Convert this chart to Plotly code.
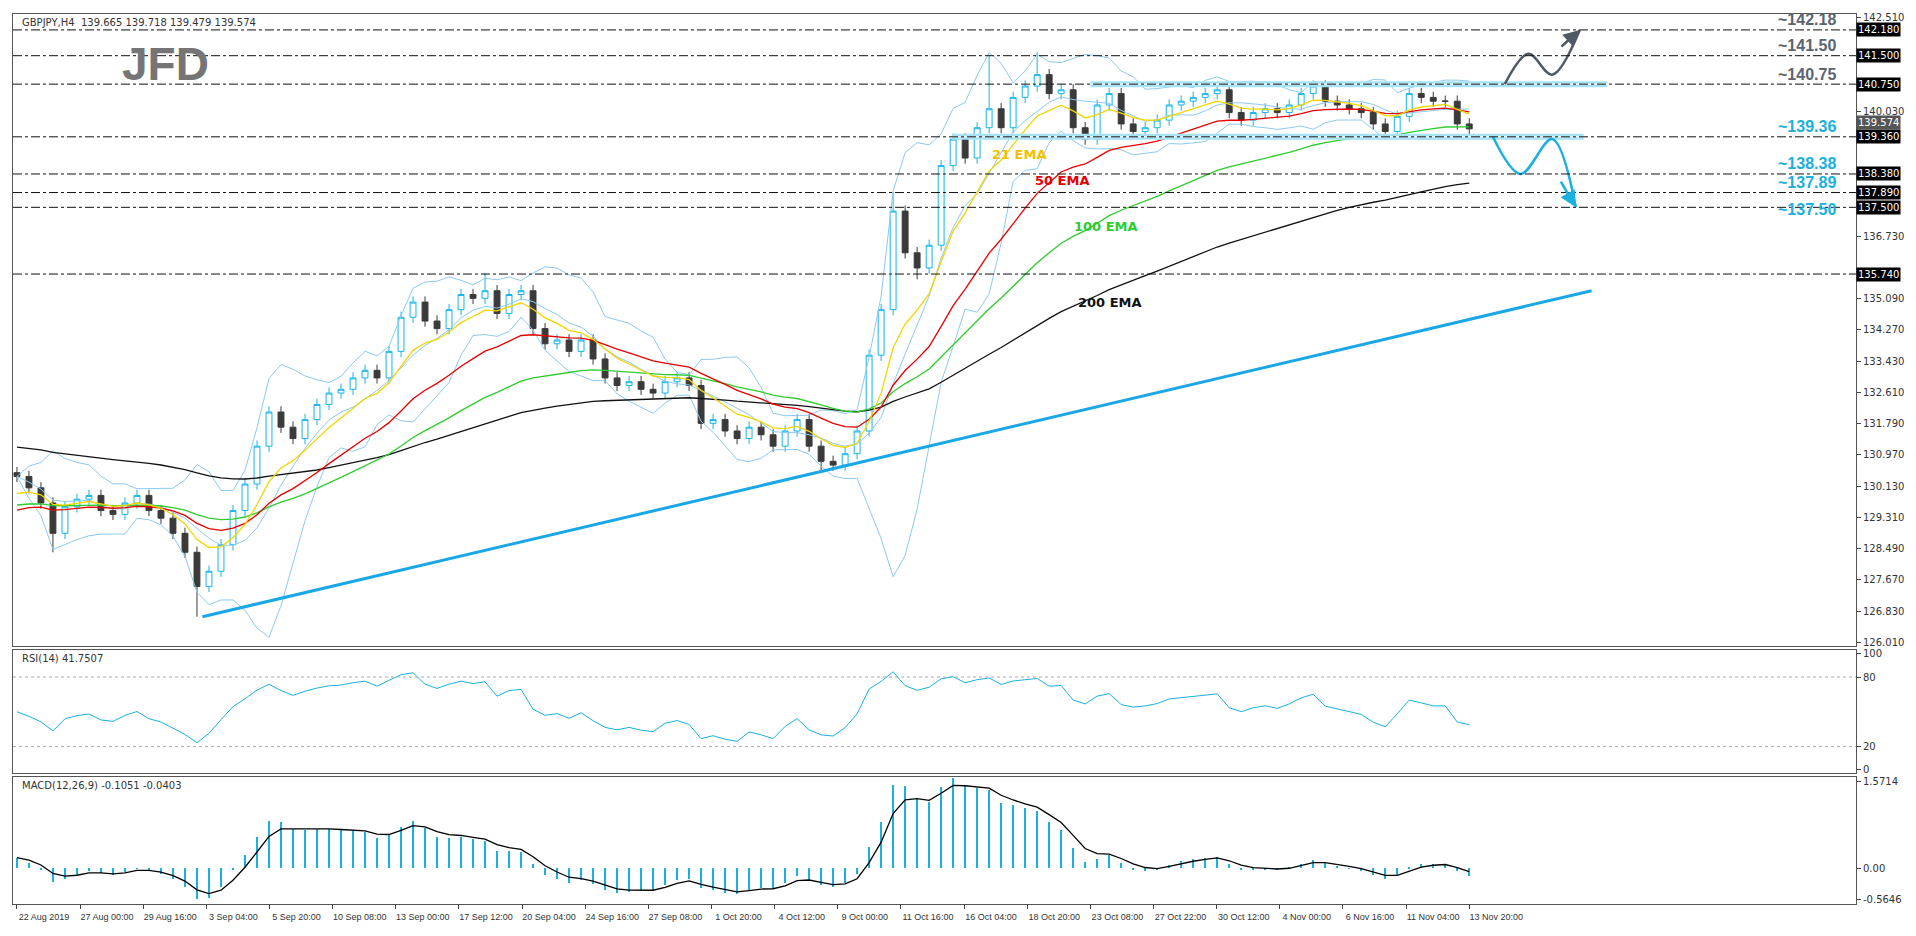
import numpy as np
import pandas as pd
import plotly.graph_objects as go

# ---------------- data ----------------
closes = [130.4,130.1,129.7,128.9,129.6,129.8,129.9,129.5,129.4,129.7,129.9,129.5,129.3,128.9,128.4,127.5,127.9,128.6,129.5,130.2,
          131.2,132.1,131.7,131.4,131.9,132.3,132.6,132.7,133.0,133.2,133.0,133.7,134.6,135.0,134.5,134.3,134.8,135.2,135.1,135.3,
          134.7,135.2,135.3,134.3,133.9,134.0,133.7,134.0,133.5,133.0,132.8,132.9,132.7,132.6,132.9,133.0,132.8,131.8,131.9,131.6,
          131.4,131.7,131.5,131.2,131.6,131.9,131.2,130.8,130.7,131.0,131.6,133.6,134.8,137.4,136.3,135.9,136.5,138.6,139.3,138.8,
          139.6,140.1,139.6,140.4,140.7,141.0,140.5,140.6,139.6,139.3,140.2,140.5,139.7,139.5,139.6,139.8,140.2,140.3,140.4,140.5,
          140.6,140.0,139.8,140.0,140.1,140.0,140.2,140.5,140.7,140.3,140.2,140.1,140.0,139.7,139.5,139.9,140.5,140.4,140.3,140.3,
          139.7,139.57]
first_open = 130.5
typical_wick = 0.15
extreme_lows = {3: 128.4, 15: 126.7, 67: 130.5, 75: 135.6}
extreme_highs = {73: 137.9, 81: 141.5, 85: 141.6, 39: 135.77}
last_bar = 368

ema_seeds = {"21 EMA": 129.8, "50 EMA": 129.4, "100 EMA": 129.6, "200 EMA": 131.2}
ema_spans = {"21 EMA": 7, "50 EMA": 17, "100 EMA": 33, "200 EMA": 67}   # 4h periods expressed in 12h candles
ema_colors = {"21 EMA": "#f2d600", "50 EMA": "#e60000", "100 EMA": "#2ecc2e", "200 EMA": "#111111"}
ema_label_pos = {"21 EMA": (254, 138.9, "#f0c000"), "50 EMA": (265, 138.2, "#e60000"),
                 "100 EMA": (276, 137.0, "#2ecc2e"), "200 EMA": (277, 135.0, "#111111")}

levels = [142.18, 141.50, 140.75, 139.36, 138.38, 137.89, 137.50, 135.74]
level_labels = ["~142.18", "~141.50", "~140.75", "~139.36", "~138.38", "~137.89", "~137.50", ""]
level_colors = ["#5a6570"] * 3 + ["#1ab0e0"] * 4 + ["#000"]
level_label_shift = [10, 10, 10, 10, 10, 10, -2, 0]
current_price = 139.574

zones = [(272, 403, 140.75), (237, 397, 139.36)]
trend_x = [47, 399]
trend_y = [126.7, 135.3]
up_path_x = [377, 383, 389, 396]
up_path_y = [140.75, 141.55, 141.0, 142.18]
dn_path_x = [374, 381, 389, 395]
dn_path_y = [139.36, 138.38, 139.30, 137.5]

price_ticks = [142.510,140.030,136.730,135.090,134.270,133.430,
               132.610,131.790,130.970,130.130,129.310,128.490,127.670,126.830,126.010]
date_labels = ["22 Aug 2019","27 Aug 00:00","29 Aug 16:00","3 Sep 04:00","5 Sep 20:00","10 Sep 08:00","13 Sep 00:00",
               "17 Sep 12:00","20 Sep 04:00","24 Sep 16:00","27 Sep 08:00","1 Oct 20:00","4 Oct 12:00","9 Oct 00:00",
               "11 Oct 16:00","16 Oct 04:00","18 Oct 20:00","23 Oct 08:00","27 Oct 22:00","30 Oct 12:00","4 Nov 00:00",
               "6 Nov 16:00","11 Nov 04:00","13 Nov 20:00"]
bars_per_label = 16

# ---------------- derived ----------------
n = len(closes)
c = np.array(closes)
x = np.arange(n) * (last_bar / (n - 1))
o = np.concatenate([[first_open], c[:-1]])
h = np.maximum(o, c) + typical_wick
l = np.minimum(o, c) - typical_wick
for k, v in extreme_lows.items(): l[k] = min(l[k], v)
for k, v in extreme_highs.items(): h[k] = max(h[k], v)

def ema(series, span, seed):
    a = 2 / (span + 1); out = []; prev = seed
    for v in series:
        prev = a * v + (1 - a) * prev; out.append(prev)
    return np.array(out)

s = pd.Series(c)
mid = s.rolling(7, min_periods=1).mean()
sd = s.rolling(7, min_periods=1).std().fillna(0)
bb_up, bb_lo = mid + 2 * sd, mid - 2 * sd

d = np.diff(c, prepend=c[0])
g = np.where(d > 0, d, 0); lo_ = np.where(d < 0, -d, 0)
ag, al = 0.25, 0.25; rsi = []
P = 9
for gi, li in zip(g, lo_):
    ag = (ag * (P - 1) + gi) / P; al = (al * (P - 1) + li) / P
    rsi.append(100 - 100 / (1 + ag / al) if al > 0 else 100)
macd = ema(c, 4, 130.3) - ema(c, 9, 130.1)
signal = ema(macd, 3, 0.2)

fig = go.Figure()
fig.add_trace(go.Scatter(x=x, y=bb_up, line=dict(color="#8ec9f0", width=1), xaxis="x", yaxis="y"))
fig.add_trace(go.Scatter(x=x, y=bb_lo, line=dict(color="#8ec9f0", width=1), xaxis="x", yaxis="y"))
fig.add_trace(go.Scatter(x=x, y=mid, line=dict(color="#8ec9f0", width=1), xaxis="x", yaxis="y"))
for name in ["200 EMA", "100 EMA", "50 EMA", "21 EMA"]:
    fig.add_trace(go.Scatter(x=x, y=ema(c, ema_spans[name], ema_seeds[name]),
                             line=dict(color=ema_colors[name], width=1.3), xaxis="x", yaxis="y"))
fig.add_trace(go.Candlestick(x=x, open=o, high=h, low=l, close=c, xaxis="x", yaxis="y",
                             increasing=dict(line=dict(color="#18b4e8", width=1), fillcolor="#ffffff"),
                             decreasing=dict(line=dict(color="#3a3a3a", width=1), fillcolor="#3a3a3a"),
                             whiskerwidth=0))
fig.add_trace(go.Scatter(x=trend_x, y=trend_y, mode="lines", line=dict(color="#1aa7e6", width=3), xaxis="x", yaxis="y"))
for (x0, x1, lv) in zones:
    fig.add_trace(go.Scatter(x=[x0, x1], y=[lv, lv], mode="lines", line=dict(color="#a6e3f5", width=6), xaxis="x", yaxis="y"))
    fig.add_trace(go.Scatter(x=[x0, x1], y=[lv, lv], mode="lines", line=dict(color="#ffffff", width=1), xaxis="x", yaxis="y"))
fig.add_trace(go.Scatter(x=up_path_x, y=up_path_y, mode="lines", line=dict(color="#505a64", width=2.5, shape="spline"), xaxis="x", yaxis="y"))
fig.add_trace(go.Scatter(x=dn_path_x, y=dn_path_y, mode="lines", line=dict(color="#1ab0e0", width=2.5, shape="spline"), xaxis="x", yaxis="y"))

fig.add_trace(go.Scatter(x=x, y=rsi, line=dict(color="#1ab0e0", width=1), xaxis="x2", yaxis="y2"))
fig.add_trace(go.Bar(x=x, y=macd, marker=dict(color="#1ab0e0", line=dict(width=0)), width=0.6, xaxis="x3", yaxis="y3"))
fig.add_trace(go.Scatter(x=x, y=signal, line=dict(color="#000", width=1.3), xaxis="x3", yaxis="y3"))

xr = [-1, 466]
ax = dict(range=xr, showgrid=False, zeroline=False, showline=True, linecolor="#555", mirror=True, showticklabels=False,
          rangeslider=dict(visible=False))
tv = [i * bars_per_label for i in range(len(date_labels))]
layout = dict(
    xaxis=dict(ax, anchor="y"), xaxis2=dict(ax, anchor="y2", matches="x"),
    xaxis3=dict(ax, anchor="y3", matches="x", showticklabels=True, tickvals=tv, ticktext=date_labels,
                ticks="outside", ticklen=4, tickfont=dict(size=9, family="Liberation Sans"), tickangle=0, ticklabelshift=27),
    yaxis=dict(domain=[0.29, 1], range=[125.93, 142.6], side="right", tickvals=price_ticks,
               ticktext=[f"{t:.3f}" for t in price_ticks], showgrid=False, zeroline=False, showline=True,
               linecolor="#555", mirror=True, ticks="outside", ticklen=4, tickfont=dict(size=10)),
    yaxis2=dict(domain=[0.147, 0.285], range=[-3, 103], side="right", tickvals=[0, 20, 80, 100], showgrid=False,
                zeroline=False, showline=True, linecolor="#555", mirror=True, ticks="outside", ticklen=4, tickfont=dict(size=10)),
    yaxis3=dict(domain=[0, 0.143], range=[-0.65, 1.65], side="right", tickvals=[-0.5646, 0, 1.5714],
                ticktext=["-0.5646", "0.00", "1.5714"], showgrid=False, zeroline=False, showline=True,
                linecolor="#555", mirror=True, ticks="outside", ticklen=4, tickfont=dict(size=10)),
    showlegend=False, plot_bgcolor="white", paper_bgcolor="white",
    margin=dict(l=4, r=46, t=4, b=24), font=dict(family="DejaVu Sans", size=10, color="#333"),
    bargap=0,
)
fig.update_layout(**layout)

for lv, lab, col, sh in zip(levels, level_labels, level_colors, level_label_shift):
    fig.add_shape(type="line", xref="x domain", yref="y", x0=0, x1=1, y0=lv, y1=lv,
                  line=dict(color="#111", width=1, dash="dashdot"))
    fig.add_annotation(xref="paper", yref="y", x=1.0, y=lv, xanchor="left", text=f"{lv:.3f}", showarrow=False,
                       bgcolor="#000", font=dict(color="#fff", size=10), borderpad=1)
    if lab:
        fig.add_annotation(xref="x domain", yref="y", x=0.99, y=lv, yshift=sh, xanchor="right", text=f"<b>{lab}</b>",
                           showarrow=False, font=dict(color=col, size=16, family="Liberation Sans"))
fig.add_annotation(xref="paper", yref="y", x=1.0, y=current_price, yshift=6, xanchor="left", text=f"{current_price:.3f}",
                   showarrow=False, bgcolor="#555", font=dict(color="#fff", size=10), borderpad=1)
for name, (px, py, col) in ema_label_pos.items():
    fig.add_annotation(x=px, y=py, xref="x", yref="y", text=f"<b>{name}</b>", showarrow=False, font=dict(color=col, size=13))
for p in [(up_path_x, up_path_y, "#505a64"), (dn_path_x, dn_path_y, "#1ab0e0")]:
    fig.add_annotation(x=p[0][-1], y=p[1][-1], ax=p[0][-2] + 2, ay=(p[1][-1] * 0.6 + p[1][-2] * 0.4), axref="x", ayref="y",
                       xref="x", yref="y", text="", showarrow=True, arrowhead=2, arrowsize=1.3, arrowwidth=2.5, arrowcolor=p[2])
fig.add_annotation(xref="paper", yref="paper", x=0.004, y=0.999, xanchor="left", yanchor="top",
                   text="GBPJPY,H4  139.665 139.718 139.479 139.574", showarrow=False, font=dict(size=10, color="#333"))
fig.add_annotation(xref="paper", yref="paper", x=0.058, y=0.975, xanchor="left", yanchor="top",
                   text="<b>JFD</b>", showarrow=False, font=dict(size=46, color="#757575", family="Liberation Sans"))
fig.add_annotation(xref="paper", yref="paper", x=0.004, y=0.284, xanchor="left", yanchor="top",
                   text="RSI(14) 41.7507", showarrow=False, font=dict(size=10, color="#333"))
fig.add_annotation(xref="paper", yref="paper", x=0.004, y=0.142, xanchor="left", yanchor="top",
                   text="MACD(12,26,9) -0.1051 -0.0403", showarrow=False, font=dict(size=10, color="#333"))
for yv in [20, 80]:
    fig.add_shape(type="line", xref="x2 domain", yref="y2", x0=0, x1=1, y0=yv, y1=yv,
                  line=dict(color="#aaa", width=1, dash="dot"))

fig.write_html("out.html")
